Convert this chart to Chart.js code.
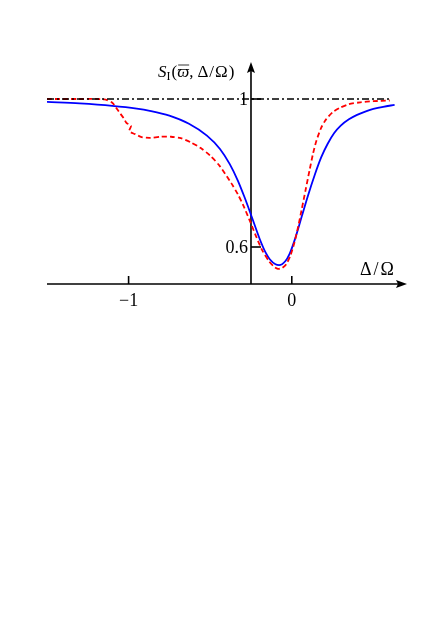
<!DOCTYPE html>
<html><head><meta charset="utf-8">
<script src="https://cdn.jsdelivr.net/npm/chart.js@4"></script>
<style>html,body{margin:0;padding:0;background:#fff}canvas{display:block}</style>
</head><body>
<canvas id="c" width="443" height="627"></canvas>
<script>
// ---- data ----
const blueX=[-1.5,-1.3,-1.1,-0.95,-0.87,-0.75,-0.63,-0.52,-0.44,-0.38,-0.33,-0.29,-0.245,-0.196,-0.16,-0.135,-0.1,-0.078,-0.04,-0.012,0.02,0.06,0.1,0.14,0.18,0.22,0.26,0.3,0.35,0.4,0.45,0.5,0.56,0.63];
const blueY=[0.992,0.988,0.9815,0.974,0.968,0.955,0.933,0.901,0.865,0.824,0.779,0.735,0.681,0.621,0.5846,0.567,0.5535,0.551,0.5615,0.583,0.622,0.681,0.74,0.794,0.842,0.879,0.908,0.928,0.945,0.957,0.966,0.973,0.979,0.984];
const redX=[-1.5,-1.3,-1.15,-1.1,-1.06,-1.03,-1.012,-0.985,-0.996,-0.96,-0.92,-0.87,-0.8,-0.74,-0.68,-0.62,-0.56,-0.5,-0.44,-0.37,-0.33,-0.3,-0.26,-0.22,-0.18,-0.14,-0.11,-0.085,-0.06,-0.035,-0.01,0.015,0.04,0.06,0.085,0.11,0.13,0.15,0.18,0.21,0.25,0.294,0.35,0.42,0.5,0.6];
const redY=[1.0,1.0,0.999,0.99,0.966,0.948,0.935,0.928,0.913,0.905,0.897,0.895,0.898,0.898,0.894,0.883,0.868,0.847,0.818,0.772,0.742,0.715,0.674,0.630,0.59,0.562,0.547,0.541,0.543,0.553,0.575,0.61,0.657,0.70,0.755,0.81,0.852,0.886,0.922,0.945,0.964,0.976,0.986,0.991,0.994,0.996];
const refX=[-1.5,0.6];
const refY=[1,1];
const xTicks=[-1,0];
const xTickLabels=['\u22121','0'];
const yTicks=[1,0.6];
const yTickLabels=['1','0.6'];
const yAxisAt=-0.25;
const xMin=-1.5, xMax=0.706, yMin=0.5, yMax=1.1;

const pts=(xs,ys)=>xs.map((x,i)=>({x:x,y:ys[i]}));

const axesPlugin={
  id:'axes',
  beforeDatasetsDraw(chart){
    const ctx=chart.ctx, xs=chart.scales.x, ys=chart.scales.y;
    const x0=xs.getPixelForValue(xMin), x1=xs.getPixelForValue(xMax);
    const y0=ys.getPixelForValue(yMin), y1=ys.getPixelForValue(yMax);
    const ax=xs.getPixelForValue(yAxisAt);
    ctx.save();
    ctx.strokeStyle='#000'; ctx.fillStyle='#000'; ctx.lineWidth=1.6;
    // x axis
    ctx.beginPath(); ctx.moveTo(x0,y0); ctx.lineTo(x1-6,y0); ctx.stroke();
    ctx.beginPath(); ctx.moveTo(x1,y0); ctx.lineTo(x1-11,y0-4); ctx.lineTo(x1-9,y0); ctx.lineTo(x1-11,y0+4); ctx.closePath(); ctx.fill();
    // y axis
    ctx.beginPath(); ctx.moveTo(ax,y0); ctx.lineTo(ax,y1+6); ctx.stroke();
    ctx.beginPath(); ctx.moveTo(ax,y1); ctx.lineTo(ax-4,y1+11); ctx.lineTo(ax,y1+9); ctx.lineTo(ax+4,y1+11); ctx.closePath(); ctx.fill();
    // ticks
    xTicks.forEach((v,i)=>{
      const p=xs.getPixelForValue(v);
      ctx.beginPath(); ctx.moveTo(p,y0); ctx.lineTo(p,y0-8); ctx.stroke();
    });
    yTicks.forEach((v,i)=>{
      const p=ys.getPixelForValue(v);
      ctx.beginPath(); ctx.moveTo(ax,p); ctx.lineTo(ax+10,p); ctx.stroke();
    });
    // tick labels
    ctx.font='18px "Liberation Serif"';
    ctx.textAlign='center'; ctx.textBaseline='alphabetic';
    xTicks.forEach((v,i)=>{
      ctx.fillText(xTickLabels[i], xs.getPixelForValue(v), y0+22);
    });
    ctx.textAlign='right'; ctx.textBaseline='middle';
    yTicks.forEach((v,i)=>{
      ctx.fillText(yTickLabels[i], ax-3, ys.getPixelForValue(v)+1);
    });
    // x axis label
    ctx.textAlign='left'; ctx.textBaseline='alphabetic';
    ctx.font='18px "Liberation Serif"';
    let lx=x1-47, ly=y0-9;
    ['\u0394','/','\u03A9'].forEach(ch=>{ ctx.fillText(ch,lx,ly); lx+=ctx.measureText(ch).width+2; });
    // y axis label  S_I(varpi-bar, Δ/Ω)
    let tx=ax-93, ty=y1+15;
    ctx.font='italic 17px "Liberation Serif"';
    ctx.fillText('S',tx,ty); tx+=ctx.measureText('S').width;
    ctx.font='12px "Liberation Serif"';
    ctx.fillText('I',tx,ty+3); tx+=ctx.measureText('I').width+1;
    ctx.font='17px "Liberation Serif"';
    ctx.fillText('(',tx,ty); tx+=ctx.measureText('(').width;
    ctx.font='italic 17px "Liberation Serif"';
    const w=ctx.measureText('\u03D6').width;
    ctx.fillText('\u03D6',tx,ty);
    ctx.lineWidth=0.8; ctx.beginPath(); ctx.moveTo(tx+1,ty-12); ctx.lineTo(tx+w,ty-12); ctx.stroke();
    tx+=w;
    ctx.font='17px "Liberation Serif"';
    ctx.fillText(',',tx,ty); tx+=ctx.measureText(',').width+4;
    ['\u0394','/','\u03A9',')'].forEach(ch=>{ ctx.fillText(ch,tx,ty); tx+=ctx.measureText(ch).width+1; });
    ctx.restore();
  }
};

new Chart(document.getElementById('c'),{
  type:'scatter',
  data:{datasets:[
    {data:pts(refX,refY),showLine:true,borderColor:'#000',borderWidth:1.5,borderDash:[7,3,2,3],pointRadius:0,tension:0},
    {data:pts(redX,redY),showLine:true,borderColor:'#ff0000',borderWidth:1.8,borderDash:[5,3],pointRadius:0,tension:0.25},
    {data:pts(blueX,blueY),showLine:true,borderColor:'#0000ff',borderWidth:1.8,pointRadius:0,cubicInterpolationMode:'monotone'}
  ]},
  options:{
    responsive:false,animation:false,
    layout:{padding:{left:47,right:36,top:62,bottom:343}},
    plugins:{legend:{display:false},tooltip:{enabled:false}},
    scales:{
      x:{type:'linear',min:xMin,max:xMax,display:false},
      y:{type:'linear',min:yMin,max:yMax,display:false}
    }
  },
  plugins:[axesPlugin]
});
</script>
</body></html>
